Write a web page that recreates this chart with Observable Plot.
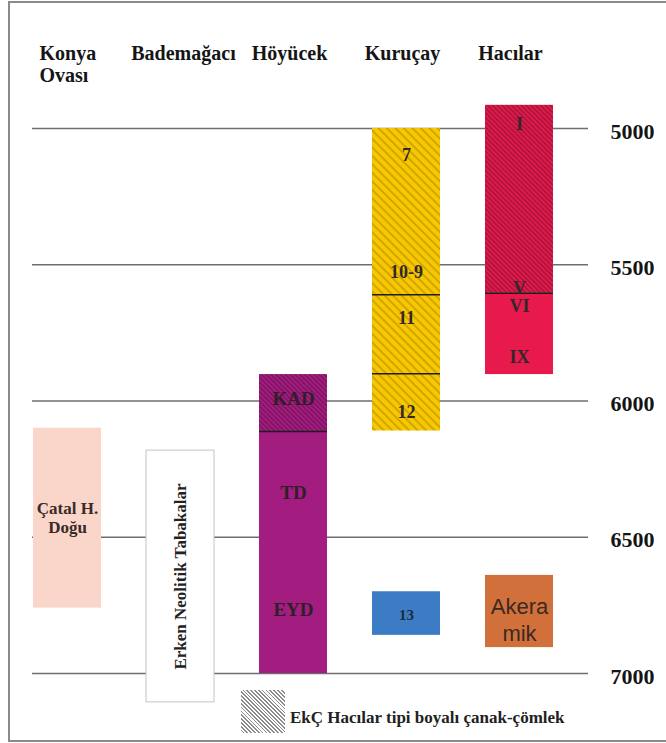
<!DOCTYPE html>
<html>
<head>
<meta charset="utf-8">
<script src="https://cdn.jsdelivr.net/npm/d3@7"></script>
<script src="https://cdn.jsdelivr.net/npm/@observablehq/plot@0.6"></script>
<style>
  html, body { margin: 0; padding: 0; background: #fff; overflow: hidden; }
  #wrap { position: relative; width: 666px; height: 743px; overflow: hidden; }
  #frame { position: absolute; left: 8px; top: 1px; width: 720px; height: 741px; border: 2px solid #8a8a8a; box-sizing: border-box; pointer-events: none; }
  #chart { position: absolute; left: 0; top: 0; }
  #legend { position: absolute; left: 241px; top: 690px; display: flex; align-items: flex-start; }
  #swatch { width: 44px; height: 43px; background: repeating-linear-gradient(45deg, #ffffff 0px, #ffffff 1.5px, #8c8c8c 1.5px, #8c8c8c 2.7px); }
  #legtext { margin-left: 5px; margin-top: 18px; font: bold 17px "Liberation Serif", "Times New Roman", serif; line-height: 20px; color: #222; white-space: nowrap; }
</style>
</head>
<body>
<div id="wrap">
  <div id="chart"></div>
  <div id="legend"><div id="swatch"></div><div id="legtext">EkÇ Hacılar tipi boyalı çanak-çömlek</div></div>
  <div id="frame"></div>
</div>
<script>
// ---- data ----
const sites = ["Konya Ovası", "Bademağacı", "Höyücek", "Kuruçay", "Hacılar"];
const headerText = ["Konya\nOvası", "Bademağacı", "Höyücek", "Kuruçay", "Hacılar"];
const yearTicks = [5000, 5500, 6000, 6500, 7000];

const barSite    = ["Konya Ovası", "Höyücek", "Höyücek", "Kuruçay", "Kuruçay", "Hacılar", "Hacılar", "Hacılar"];
const barStart   = [6100, 5903, 6112, 5000, 6700, 4915, 5605, 6640];
const barEnd     = [6760, 6112, 7000, 6110, 6860, 5605, 5903, 6905];
const barColor   = ["#f9d6c9", "#a21d7f", "#a21d7f", "#f7c700", "#3b7cc4", "#e01b4b", "#e8194d", "#d2703b"];
const barHatched = [false, true, false, true, false, true, false, false];

const boxSite = ["Bademağacı"];
const boxStart = [6182];
const boxEnd = [7106];
const boxLabel = ["Erken Neolitik Tabakalar"];

const dividerSite = ["Höyücek", "Kuruçay", "Kuruçay", "Hacılar"];
const dividerYear = [6112, 5610, 5900, 5605];

const labelSite = ["Höyücek", "Höyücek", "Höyücek", "Kuruçay", "Kuruçay", "Kuruçay", "Kuruçay", "Kuruçay", "Hacılar", "Hacılar", "Hacılar", "Hacılar", "Hacılar", "Konya Ovası"];
const labelYear = [5993, 6339, 6767, 5099, 5527, 5697, 6040, 6787, 4983, 5585, 5653, 5839, 6800, 6428];
const labelText = ["KAD", "TD", "EYD", "7", "10-9", "11", "12", "13", "I", "V", "VI", "IX", "Akera\nmik", "Çatal H.\nDoğu"];

// ---- tables ----
const bars = barSite.map((s, i) => ({site: s, from: barStart[i], to: barEnd[i], fill: barColor[i], hatched: barHatched[i]}));
const boxes = boxSite.map((s, i) => ({site: s, from: boxStart[i], to: boxEnd[i], label: boxLabel[i], mid: (boxStart[i] + boxEnd[i]) / 2}));
const dividers = dividerSite.map((s, i) => ({site: s, year: dividerYear[i]}));
const labels = labelSite.map((s, i) => ({site: s, year: labelYear[i], text: labelText[i]}));
const headers = sites.map((s, i) => ({site: s, text: headerText[i]}));

const serif = "'Liberation Serif', 'Times New Roman', serif";
const sans = "'Liberation Sans', Arial, sans-serif";
const big = labels.filter(d => d.site === "Höyücek");
const mid = labels.filter(d => (d.site === "Kuruçay" || d.site === "Hacılar") && d.text !== "13" && d.text !== "Akera\nmik");

const headerStyle = {x: "site", text: "text", frameAnchor: "top", lineAnchor: "top", dy: -84, fontFamily: serif, fontWeight: "bold", fontSize: 20, lineHeight: 1.1, fill: "#151515"};
const headerShift = {"Konya Ovası": -28, "Bademağacı": 3, "Höyücek": -4, "Kuruçay": -4, "Hacılar": -9};
const headerMarks = headers.map(h => Plot.text([h], {
  ...headerStyle,
  dx: headerShift[h.site],
  textAnchor: h.site === "Konya Ovası" ? "start" : "middle"
}));

const svg = Plot.plot({
  width: 666,
  height: 743,
  marginTop: 128,
  marginBottom: 70,
  marginLeft: 32,
  marginRight: 113,
  x: {type: "band", domain: sites, paddingInner: 0.4, paddingOuter: 0, axis: null},
  y: {domain: [5000, 7000], reverse: true, axis: null},
  color: {type: "identity"},
  style: {background: "transparent", fontFamily: serif},
  marks: [
    Plot.ruleY(yearTicks, {stroke: "#6e6e6e", strokeWidth: 1.6, insetRight: -35}),
    Plot.barY(boxes, {x: "site", y1: "from", y2: "to", fill: "white", stroke: "#c4c4c4", strokeWidth: 1}),
    Plot.barY(bars, {x: "site", y1: "from", y2: "to", fill: "fill"}),
    Plot.barY(bars.filter(d => d.hatched && d.site !== "Kuruçay"), {x: "site", y1: "from", y2: "to", fill: "url(#hatchDense)"}),
    Plot.barY(bars.filter(d => d.hatched && d.site === "Kuruçay"), {x: "site", y1: "from", y2: "to", fill: "url(#hatchSparse)"}),
    Plot.tickY(dividers, {x: "site", y: "year", stroke: "#1e1e1e", strokeWidth: 1.5}),
    Plot.text(big, {x: "site", y: "year", text: "text", fontFamily: serif, fontWeight: "bold", fontSize: 19, fill: "#2e1f29"}),
    Plot.text(mid, {x: "site", y: "year", text: "text", fontFamily: serif, fontWeight: "bold", fontSize: 18, fill: "#33282a"}),
    Plot.text(labels.filter(d => d.text === "13"), {x: "site", y: "year", text: "text", fontFamily: serif, fontWeight: "bold", fontSize: 15, fill: "#1e2a3a"}),
    Plot.text(labels.filter(d => d.text === "Akera\nmik"), {x: "site", y: "year", text: "text", fontFamily: sans, fontSize: 22, lineHeight: 1.2, fill: "#3a2a22"}),
    Plot.text(labels.filter(d => d.site === "Konya Ovası"), {x: "site", y: "year", text: "text", fontFamily: serif, fontWeight: "bold", fontSize: 17, lineHeight: 1.12, fill: "#3a2a28"}),
    Plot.text(boxes, {x: "site", y: "mid", text: "label", rotate: -90, fontFamily: serif, fontWeight: "bold", fontSize: 17, fill: "#222"}),
    ...headerMarks,
    Plot.text(yearTicks, {y: d => d, text: d => String(d), frameAnchor: "right", textAnchor: "start", dx: 57, dy: 3, fontFamily: serif, fontWeight: "bold", fontSize: 22, fill: "#151515"})
  ]
});

// hatch patterns
const ns = "http://www.w3.org/2000/svg";
const defs = document.createElementNS(ns, "defs");
function addPattern(id, size, color, w) {
  const p = document.createElementNS(ns, "pattern");
  p.setAttribute("id", id);
  p.setAttribute("patternUnits", "userSpaceOnUse");
  p.setAttribute("width", size);
  p.setAttribute("height", size);
  p.setAttribute("patternTransform", "rotate(-45)");
  const l = document.createElementNS(ns, "line");
  l.setAttribute("x1", size / 2); l.setAttribute("y1", 0);
  l.setAttribute("x2", size / 2); l.setAttribute("y2", size);
  l.setAttribute("stroke", color);
  l.setAttribute("stroke-width", w);
  p.appendChild(l);
  defs.appendChild(p);
}
addPattern("hatchDense", 3.4, "rgba(40,0,20,0.5)", 0.9);
addPattern("hatchSparse", 6, "rgba(50,35,0,0.5)", 0.8);
svg.insertBefore(defs, svg.firstChild);

document.getElementById("chart").appendChild(svg);
</script>
</body>
</html>
